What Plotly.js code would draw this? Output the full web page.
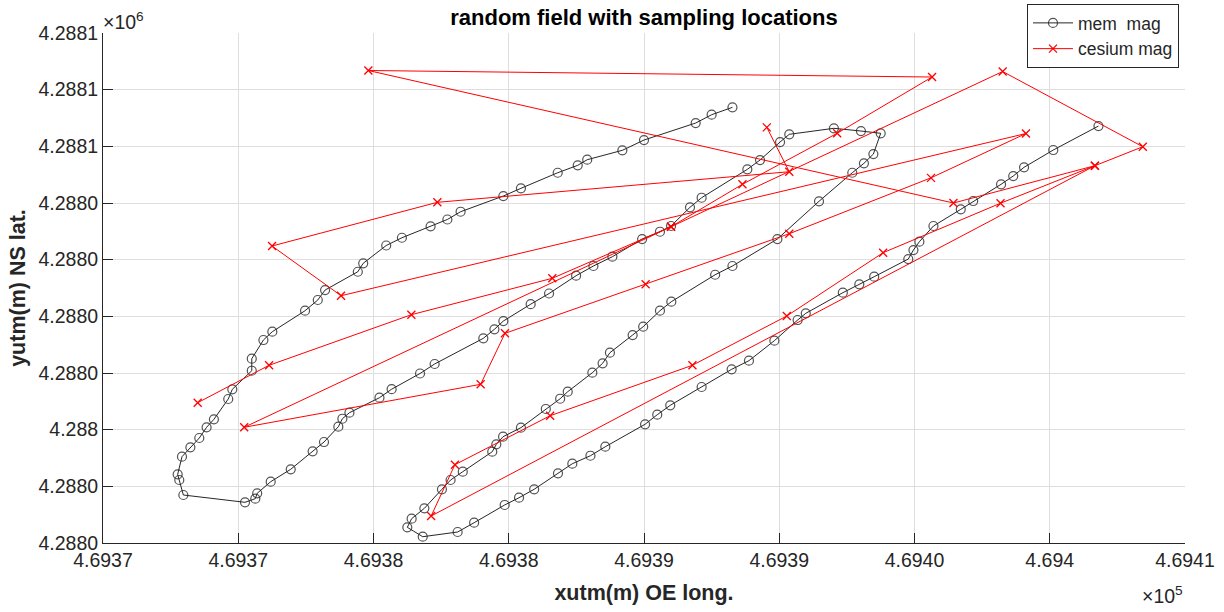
<!DOCTYPE html>
<html>
<head>
<meta charset="utf-8">
<script src="https://cdn.plot.ly/plotly-3.0.1.min.js"></script>
<style>html,body{margin:0;padding:0;background:#fff;}#chart{width:1224px;height:612px;}</style>
</head>
<body>
<div id="chart"></div>
<script>
// mem mag track (UTM metres)
const memX = [469401.80,469400.13,469399.05,469398.65,469398.20,469397.17,469396.71,469395.70,469395.18,469394.96,
469394.77,469393.51,469392.96,469392.35,469390.98,469390.68,469389.82,469388.88,469388.24,469387.13,
469385.97,469385.49,469385.04,469383.57,469383.02,469382.35,469381.82,469380.94,469380.38,469379.85,
469378.72,469378.11,469376.82,469376.25,469376.41,469376.88,469377.53,469377.85,469378.30,469379.39,
469379.54,469379.79,469380.45,469381.37,469381.90,469382.18,469383.09,469383.47,469383.74,469384.58,
469384.97,469385.59,469386.01,469387.63,469388.27,469389.93,469391.47,469392.70,469393.13,469393.48,
469393.75,469393.02,469392.02,469390.37,469390.03,469389.29,469388.82,469387.13,469386.70,469386.00,
469385.59,469384.93,469383.83,469383.13,469382.49,469381.49,469380.81,469379.80,469379.47,469379.06,
469377.26,469376.72,469375.67,469375.22,469374.11,469373.85,469373.70,469373.17,469372.75,469371.94,
469371.20,469370.70,469370.63,469370.25,469367.97,469367.82,469367.76,469367.92,469368.23,469368.56,
469368.83,469369.10,469369.63,469369.78,469370.50,469370.50,469370.93,469371.26,469372.47,469372.94,
469373.21,469374.42,469374.62,469375.47,469376.05,469377.11,469377.73,469378.22,469379.80,469380.45,
469381.81,469382.55,469382.90,469384.20,469385.00,469386.91,469387.50,469388.27];
const memY = [4288053.58,4288049.35,4288046.30,4288044.76,4288043.30,4288040.35,4288038.88,4288035.94,4288033.17,4288031.70,
4288030.11,4288026.99,4288025.65,4288024.17,4288020.53,4288019.35,4288015.70,4288012.17,4288010.65,4288007.53,
4288004.30,4288002.64,4288000.95,4287996.99,4287995.40,4287993.99,4287992.30,4287989.48,4287987.99,4287986.71,
4287983.58,4287981.94,4287981.11,4287982.77,4287984.29,4287986.12,4287989.48,4287991.12,4287992.58,4287996.11,
4287997.42,4287998.76,4288000.35,4288003.65,4288005.46,4288006.70,4288010.05,4288011.71,4288013.58,4288016.70,
4288018.17,4288020.99,4288022.58,4288027.34,4288028.88,4288033.64,4288040.30,4288045.34,4288047.00,4288048.64,
4288052.30,4288052.70,4288053.18,4288052.12,4288050.76,4288047.58,4288045.94,4288040.93,4288039.24,4288035.94,
4288034.93,4288033.64,4288030.52,4288028.88,4288027.17,4288024.03,4288022.14,4288019.17,4288017.71,4288016.12,
4288011.59,4288009.91,4288007.14,4288005.64,4288002.99,4288001.93,4288000.52,4287997.82,4287996.18,4287993.01,
4287990.82,4287988.77,4287987.82,4287987.18,4287988.47,4287991.12,4287992.12,4287995.23,4287996.89,4287998.53,
4288000.42,4288001.83,4288005.41,4288007.12,4288010.40,4288012.52,4288015.82,4288017.29,4288020.99,4288022.88,
4288024.64,4288027.87,4288029.36,4288032.50,4288033.87,4288035.89,4288037.09,4288038.46,4288041.23,4288042.59,
4288045.34,4288046.65,4288047.64,4288049.30,4288051.11,4288054.11,4288055.58,4288056.88];

// cesium mag track (UTM metres)
const csX = [469368.50,469371.14,469376.40,469381.61,469386.00,469398.26,469403.44,469401.67,469377.13,469378.01,
469381.53,469386.79,469390.28,469393.84,469398.18,469401.67,469396.44,469374.81,469395.65,469392.14,
469388.64,469386.00,469370.22,469378.96,469379.86,469385.06,469390.37,469395.61,469399.12,469373.80,
469371.25,469377.36,469390.37,469389.54];
const csY = [4288004.76,4288011.36,4288020.29,4288026.71,4288035.81,4288063.20,4288049.93,4288046.58,4287984.76,4287993.82,
4288002.46,4288011.36,4288020.06,4288031.23,4288039.96,4288046.58,4288040.00,4288063.38,4288062.23,4288052.30,
4288043.30,4288035.81,4288000.42,4288008.00,4288017.00,4288025.65,4288034.58,4288044.44,4288052.26,4288023.64,
4288032.41,4288040.12,4288045.52,4288053.35];

// tick positions and their (rounded) labels as shown
const xTickVals = [469365,469370,469375,469380,469385,469390,469395,469400,469405];
const xTickText = ['4.6937','4.6937','4.6938','4.6938','4.6939','4.6939','4.6940','4.694','4.6941'];
const yTickVals = [4287980,4287990,4288000,4288010,4288020,4288030,4288040,4288050,4288060,4288070];
const yTickText = ['4.2880','4.2880','4.288','4.2880','4.2880','4.2880','4.2880','4.2881','4.2881','4.2881'];

const FONT = 'Liberation Sans, Arial, Helvetica, sans-serif';
const AX = '#262626';

const traces = [
  {
    x: memX, y: memY, type: 'scatter', mode: 'lines+markers', name: 'mem  mag',
    line: {color: 'rgba(0,0,0,0.85)', width: 1},
    marker: {symbol: 'circle-open', size: 9, color: 'rgba(40,40,40,0.8)', line: {width: 1.2}}
  },
  {
    x: csX, y: csY, type: 'scatter', mode: 'lines+markers', name: 'cesium mag',
    line: {color: '#ff0000', width: 1},
    marker: {symbol: 'x-thin-open', size: 8, color: '#ff0000', line: {width: 1.3, color: '#ff0000'}}
  }
];

const layout = {
  width: 1224, height: 612,
  paper_bgcolor: '#ffffff', plot_bgcolor: '#ffffff',
  margin: {l: 103, r: 39, t: 33, b: 69, autoexpand: false},
  font: {family: FONT, color: AX},
  title: {
    text: '<b>random field with sampling locations</b>',
    font: {family: FONT, size: 22, color: '#000000'},
    x: 0.5, xref: 'paper', xanchor: 'center',
    y: 1 - 17/612, yref: 'container', yanchor: 'middle'
  },
  xaxis: {
    range: [469365, 469405],
    tickvals: xTickVals, ticktext: xTickText,
    tickfont: {family: FONT, size: 19.5, color: AX},
    ticks: 'inside', ticklen: 10, tickcolor: AX, tickwidth: 1,
    showline: true, linecolor: AX, linewidth: 1, mirror: false,
    showgrid: true, gridcolor: '#dedede', gridwidth: 1,
    zeroline: false, automargin: false,
    title: {text: '<b>xutm(m) OE long.</b>', font: {family: FONT, size: 21.5, color: AX}, standoff: 14}
  },
  yaxis: {
    range: [4287980, 4288070],
    tickvals: yTickVals, ticktext: yTickText,
    tickfont: {family: FONT, size: 19.5, color: AX},
    ticks: 'inside', ticklen: 10, tickcolor: AX, tickwidth: 1,
    showline: true, linecolor: AX, linewidth: 1, mirror: false,
    showgrid: true, gridcolor: '#dedede', gridwidth: 1,
    zeroline: false, automargin: false,
    title: {text: '<b>yutm(m) NS lat.</b>', font: {family: FONT, size: 21.5, color: AX}, standoff: 6}
  },
  legend: {
    x: (1179 - 103) / 1082, xanchor: 'right', y: (543 - 4) / 510, yanchor: 'top',
    bgcolor: '#ffffff', bordercolor: '#262626', borderwidth: 1,
    font: {family: FONT, size: 17.5, color: AX}, tracegroupgap: 0, itemwidth: 40
  },
  showlegend: true,
  annotations: [
    {text: '×10<sup>6</sup>', xref: 'paper', yref: 'paper', x: 0, y: 1, xanchor: 'left', yanchor: 'bottom',
     showarrow: false, font: {family: FONT, size: 19.5, color: AX}, xshift: -2, yshift: -2},
    {text: '×10<sup>5</sup>', xref: 'paper', yref: 'paper', x: 1, y: 0, xanchor: 'right', yanchor: 'top',
     showarrow: false, font: {family: FONT, size: 19.5, color: AX}, yshift: -38}
  ]
};

Plotly.newPlot('chart', traces, layout, {displayModeBar: false, staticPlot: true});
</script>
</body>
</html>
